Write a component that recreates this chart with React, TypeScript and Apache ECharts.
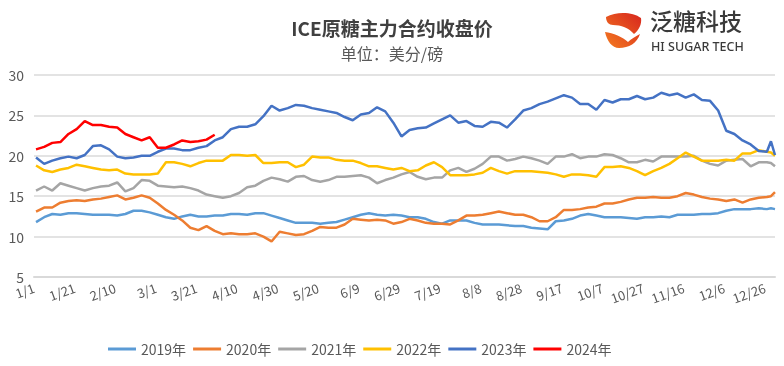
import React, { useEffect, useRef } from "react";
import * as echarts from "echarts";

const seriesNames = ["2019年", "2020年", "2021年", "2022年", "2023年", "2024年"];
const seriesColors = ["#5B9BD5", "#ED7D31", "#A5A5A5", "#FFC000", "#4472C4", "#FF0000"];

// day-of-year (leap-year calendar) of each sampled point
const sampleDays: number[] = Array.from({ length: 91 }, (_, k) => 1 + 4 * k).concat([363, 365]);

const v2019 = [
  11.8, 12.4, 12.8, 12.7, 12.9, 12.9, 12.8, 12.7, 12.7, 12.7, 12.6, 12.8, 13.2, 13.2, 13.0, 12.7, 12.4, 12.2, 12.5, 12.7, 12.5, 12.5, 12.6,
  12.6,
  12.8, 12.8, 12.7, 12.9, 12.9, 12.6, 12.3, 12.0, 11.7, 11.7, 11.7, 11.6, 11.7, 11.8, 12.1, 12.4, 12.7, 12.9, 12.7, 12.6, 12.7, 12.6,
  12.4, 12.4, 12.2, 11.8, 11.6, 12.0, 12.0, 12.0, 11.7, 11.5, 11.5, 11.5, 11.4, 11.3, 11.3, 11.1, 11.0, 10.9, 11.9, 12.0, 12.2, 12.6, 12.8,
  12.6, 12.4, 12.4, 12.4, 12.3, 12.2, 12.4, 12.4, 12.5, 12.4, 12.7, 12.7, 12.7, 12.8, 12.8, 12.9, 13.2, 13.4, 13.4, 13.4, 13.5, 13.4,
  13.5, 13.4,
];
const v2020 = [
  13.1, 13.6, 13.6, 14.2, 14.4, 14.5, 14.4, 14.6, 14.7, 14.9, 15.1, 14.6, 14.8, 15.1, 14.8, 14.1, 13.3, 12.7, 12.0, 11.1, 10.8, 11.3, 10.7,
  10.3,
  10.4, 10.3, 10.3, 10.4, 10.0, 9.4, 10.6, 10.4, 10.2, 10.3, 10.7, 11.2, 11.1, 11.1, 11.5, 12.2, 12.1, 12.0, 12.1, 12.0, 11.6, 11.8,
  12.2, 12.0, 11.7, 11.6, 11.6, 11.5, 12.0, 12.6, 12.6, 12.7, 12.9, 13.1, 12.9, 12.7, 12.7, 12.4, 11.9, 11.9, 12.4, 13.3, 13.3, 13.4, 13.6,
  13.7, 14.1, 14.1, 14.3, 14.6, 14.8, 14.8, 14.9, 14.8, 14.8, 15.0, 15.4, 15.2, 14.9, 14.7, 14.6, 14.4, 14.6, 14.2, 14.6, 14.8, 14.9,
  15.0, 15.5,
];
const v2021 = [
  15.7, 16.2, 15.7, 16.6, 16.3, 16.0, 15.7, 16.0, 16.2, 16.3, 16.7, 15.6, 16.0, 17.0, 16.9, 16.3, 16.2, 16.1, 16.2, 16.0, 15.7, 15.2, 15.0,
  14.8,
  15.0, 15.4, 16.1, 16.3, 16.9, 17.3, 17.1, 16.8, 17.4, 17.5, 17.0, 16.8, 17.0, 17.4, 17.4, 17.5, 17.6, 17.3, 16.6, 17.0, 17.3, 17.7,
  18.0, 17.4, 17.1, 17.3, 17.3, 18.2, 18.5, 18.0, 18.4, 19.0, 19.9, 19.9, 19.4, 19.6, 19.9, 19.7, 19.4, 19.0, 19.9, 19.9, 20.2, 19.7, 19.9,
  19.9, 20.2, 20.1, 19.7, 19.2, 19.2, 19.5, 19.3, 19.9, 19.9, 19.9, 19.9, 20.0, 19.4, 19.0, 18.8, 19.4, 19.5, 19.6, 18.7, 19.2, 19.2,
  19.1, 18.7,
];
const v2022 = [
  18.8, 18.2, 18.0, 18.3, 18.5, 18.9, 18.7, 18.5, 18.3, 18.2, 18.3, 17.8, 17.7, 17.7, 17.7, 17.8, 19.2, 19.2, 19.0, 18.7, 19.1, 19.4, 19.4,
  19.4,
  20.1, 20.1, 20.0, 20.1, 19.1, 19.1, 19.2, 19.2, 18.6, 18.9, 19.9, 19.8, 19.8, 19.5, 19.4, 19.4, 19.1, 18.7, 18.7, 18.5, 18.3, 18.5,
  18.1, 18.2, 18.8, 19.2, 18.6, 17.6, 17.6, 17.6, 17.7, 17.9, 18.5, 18.1, 17.8, 18.1, 18.1, 18.1, 18.0, 17.9, 17.7, 17.4, 17.7, 17.7, 17.6,
  17.4, 18.6, 18.6, 18.7, 18.5, 18.1, 17.6, 18.1, 18.5, 19.0, 19.7, 20.4, 19.9, 19.4, 19.4, 19.4, 19.5, 19.4, 20.3, 20.3, 20.7, 20.5,
  20.4, 20.0,
];
const v2023 = [
  19.8, 19.0, 19.4, 19.7, 19.9, 19.7, 20.1, 21.2, 21.3, 20.8, 19.9, 19.7, 19.8, 20.0, 20.0, 20.5, 20.9, 20.9, 20.7, 20.7, 21.0, 21.2, 21.9,
  22.3,
  23.3, 23.6, 23.6, 23.9, 24.9, 26.2, 25.6, 25.9, 26.3, 26.2, 25.9, 25.7, 25.5, 25.3, 24.8, 24.4, 25.1, 25.3, 26.0, 25.5, 24.1, 22.4,
  23.2, 23.4, 23.5, 24.0, 24.5, 25.0, 24.1, 24.3, 23.7, 23.6, 24.2, 24.1, 23.5, 24.5, 25.6, 25.9, 26.4, 26.7, 27.1, 27.5, 27.2, 26.4, 26.4,
  25.7, 26.9, 26.6, 27.0, 27.0, 27.4, 27.0, 27.2, 27.8, 27.5, 27.7, 27.2, 27.6, 26.9, 26.8, 25.6, 23.1, 22.7, 21.9, 21.4, 20.6, 20.5,
  21.8, 20.1,
];
const v2024 = [
  20.8, 21.1, 21.6, 21.7, 22.7, 23.3, 24.3, 23.8, 23.8, 23.6, 23.5, 22.7, 22.3, 21.9, 22.3, 21.0, 21.0, 21.4, 21.9, 21.7, 21.8, 22.0, 22.6,
];

const seriesValues = [v2019, v2020, v2021, v2022, v2023, v2024];

function buildDates(): string[] {
  const out: string[] = [];
  const d = new Date(2024, 0, 1);
  for (let i = 0; i < 366; i++) {
    out.push(`${d.getMonth() + 1}/${d.getDate()}`);
    d.setDate(d.getDate() + 1);
  }
  return out;
}

const logoPath =
  "M3 5 C14 -1 30 0 38 6 C39 12 36 18 31 22 C26 16 18 13 10 13 C6 13 3 10 3 5 Z " +
  "M2 20 C10 21 20 25 25 30 C28 27 33 24 37 22 C34 31 26 36 16 36 C9 36 4 29 2 20 Z";

let registered = false;

export default function App() {
  const ref = useRef<HTMLDivElement>(null);
  useEffect(() => {
    if (!ref.current) return;
    if (!registered) {
      echarts.graphic.registerShape("logo", echarts.graphic.extendPath(logoPath, {}));
      registered = true;
    }
    const chart = echarts.init(ref.current, null, { renderer: "svg" });
    const dates = buildDates();
    const series = seriesNames.map((name, si) => {
      const full: (number | null)[] = new Array(dates.length).fill(null);
      sampleDays.forEach((day, i) => {
        const v = seriesValues[si][i];
        if (v !== undefined) full[day] = v;
      });
      return {
        name,
        type: "line",
        data: full,
        connectNulls: true,
        showSymbol: false,
        symbol: "none",
        color: seriesColors[si],
        lineStyle: { width: 2.5, color: seriesColors[si] },
      };
    });
    chart.setOption({
      animation: false,
      textStyle: { fontFamily: "Noto Sans CJK SC" },
      title: [
        {
          text: "ICE原糖主力合约收盘价",
          left: 387,
          top: 13,
          textAlign: "center",
          textStyle: { fontSize: 19, fontWeight: "bold", color: "#404040", fontFamily: "Noto Sans CJK SC" },
        },
        {
          text: "单位：美分/磅",
          left: 387,
          top: 40,
          textAlign: "center",
          textStyle: { fontSize: 16, fontWeight: "normal", color: "#595959", fontFamily: "Noto Sans CJK SC" },
        },
      ],
      graphic: [
        {
          type: "logo",
          x: 603,
          y: 12,
          scaleX: 1,
          scaleY: 1,
          style: {
            fill: new echarts.graphic.LinearGradient(0, 1, 1, 0, [
              { offset: 0, color: "#F47B20" },
              { offset: 1, color: "#D7261E" },
            ]),
          },
        },
        {
          type: "text",
          x: 650,
          y: 8,
          style: {
            text: "泛糖科技",
            fontSize: 23,
            lineHeight: 23,
            fill: "#3a3a3a",
            fontFamily: "Noto Sans CJK SC",
            fontWeight: 500,
          },
        },
        {
          type: "text",
          x: 651,
          y: 40,
          style: {
            text: "HI SUGAR TECH",
            fontSize: 12.5,
            lineHeight: 12,
            fill: "#3a3a3a",
            fontFamily: "Noto Sans",
            fontWeight: 500,
          },
        },
      ],
      legend: {
        data: seriesNames,
        left: 103,
        top: 337,
        icon: "rect",
        itemWidth: 28,
        itemHeight: 3,
        itemGap: 7,
        textStyle: { fontSize: 14, color: "#595959", fontFamily: "Noto Sans CJK SC" },
      },
      grid: { left: 34, right: 9, top: 75, bottom: 89, containLabel: false },
      xAxis: {
        type: "category",
        data: dates,
        boundaryGap: false,
        axisLine: { show: true, lineStyle: { color: "#d9d9d9", width: 2 } },
        axisTick: { show: false },
        axisLabel: {
          interval: (index: number) => index % 20 === 0,
          rotate: 20,
          fontSize: 13,
          color: "#595959",
          margin: 10,
        },
      },
      yAxis: {
        type: "value",
        min: 5,
        max: 30,
        interval: 5,
        axisLine: { show: false },
        axisTick: { show: false },
        axisLabel: { fontSize: 14, color: "#595959", margin: 10 },
        splitLine: { lineStyle: { color: "#e3e3e3", width: 2 } },
      },
      series,
    });
    return () => chart.dispose();
  }, []);
  return <div ref={ref} style={{ position: "fixed", left: 0, top: 0, width: 784, height: 366 }} />;
}
